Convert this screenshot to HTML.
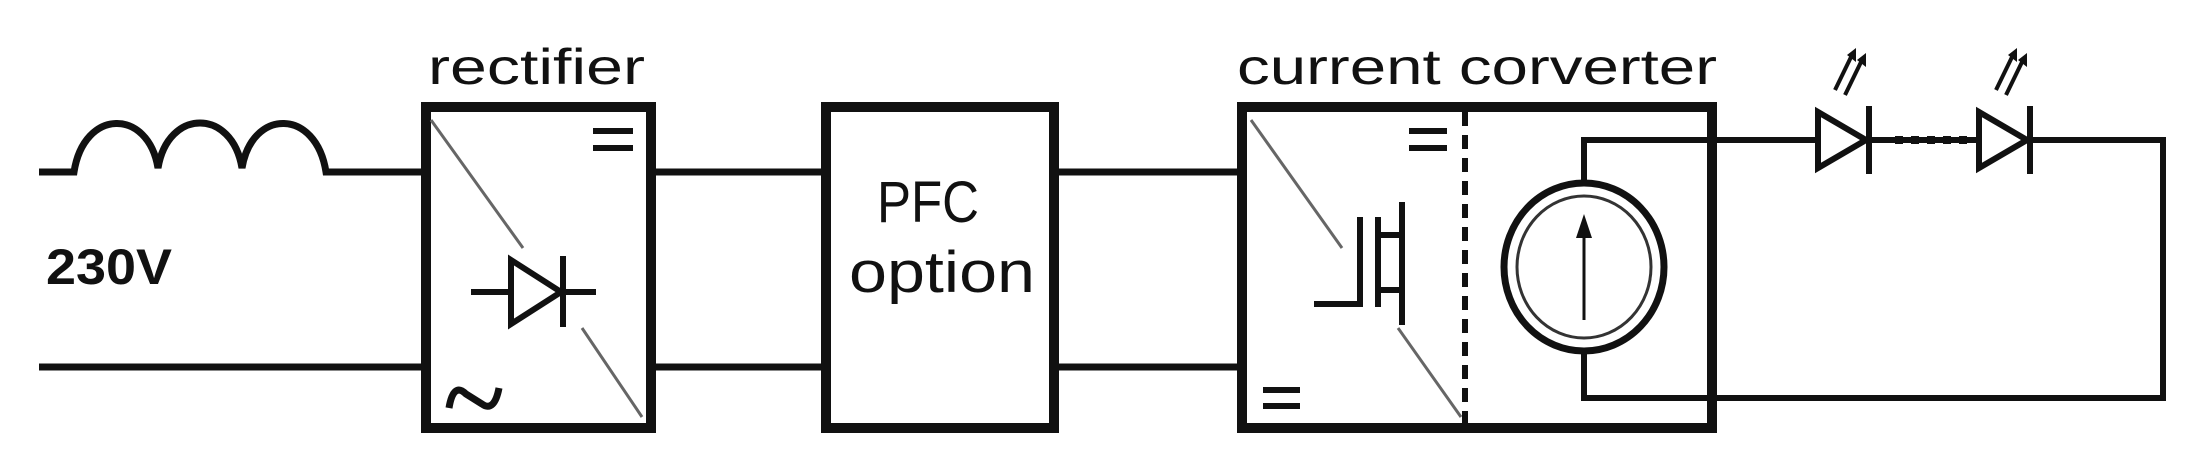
<!DOCTYPE html>
<html><head><meta charset="utf-8"><style>html,body{margin:0;padding:0;background:#fff}svg{display:block}</style></head>
<body>
<svg width="2211" height="471" viewBox="0 0 2211 471" xmlns="http://www.w3.org/2000/svg" font-family="Liberation Sans, sans-serif">
<g fill="none" stroke="#111" stroke-width="7">
  <!-- inductor -->
  <path d="M39 172 H74 C84 108 148 108 158 168 C168 108 232 108 242 168 C252 108 316 108 326 172 H421"/>
  <line x1="39" y1="367" x2="421" y2="367"/>
  <line x1="656" y1="172" x2="824" y2="172"/>
  <line x1="656" y1="367" x2="824" y2="367"/>
  <line x1="1059" y1="172" x2="1237" y2="172"/>
  <line x1="1059" y1="367" x2="1237" y2="367"/>
</g>
<g fill="none" stroke="#111" stroke-width="10">
  <rect x="426" y="107" width="225" height="321"/>
  <rect x="826" y="107" width="228" height="321"/>
  <rect x="1242" y="107" width="470" height="321"/>
</g>
<!-- rectifier internals -->
<g stroke="#666" stroke-width="3"><line x1="431" y1="120" x2="523" y2="248"/><line x1="582" y1="328" x2="642" y2="417"/></g>
<g stroke="#111" stroke-width="6" fill="none">
  <line x1="593" y1="131" x2="633" y2="131"/><line x1="593" y1="148" x2="633" y2="148"/>
  <line x1="471" y1="292" x2="596" y2="292"/>
  <path d="M511 260 L561 292 L511 324 Z" fill="#fff"/>
  <line x1="563" y1="256" x2="563" y2="327"/>
</g>
<path d="M449 408 C452 390 458 386 466 394 L482 404 C490 410 496 404 499 388" fill="none" stroke="#111" stroke-width="7"/>
<text x="428" y="84" font-size="50" textLength="217" lengthAdjust="spacingAndGlyphs" fill="#111">rectifier</text>
<text x="877" y="222" font-size="58" textLength="102" lengthAdjust="spacingAndGlyphs" fill="#111">PFC</text>
<text x="849" y="292" font-size="58" textLength="186" lengthAdjust="spacingAndGlyphs" fill="#111">option</text>
<text x="46" y="284" font-size="50" font-weight="bold" textLength="126" lengthAdjust="spacingAndGlyphs" fill="#111">230V</text>
<text x="1237" y="84" font-size="50" textLength="480" lengthAdjust="spacingAndGlyphs" fill="#111">current corverter</text>
<!-- converter internals -->
<g stroke="#666" stroke-width="3"><line x1="1251" y1="120" x2="1342" y2="248"/><line x1="1398" y1="328" x2="1461" y2="417"/></g>
<line x1="1465" y1="112" x2="1465" y2="426" stroke="#111" stroke-width="6" stroke-dasharray="14 9"/>
<g stroke="#111" stroke-width="6" fill="none">
  <line x1="1409" y1="131" x2="1447" y2="131"/><line x1="1409" y1="148" x2="1447" y2="148"/>
  <line x1="1263" y1="390" x2="1300" y2="390"/><line x1="1263" y1="406" x2="1300" y2="406"/>
  <line x1="1360" y1="217" x2="1360" y2="307"/>
  <line x1="1314" y1="304" x2="1360" y2="304"/>
  <line x1="1378" y1="217" x2="1378" y2="307"/>
  <line x1="1402" y1="202" x2="1402" y2="325"/>
  <line x1="1378" y1="235" x2="1402" y2="235"/>
  <line x1="1378" y1="290" x2="1402" y2="290"/>
  <!-- loop -->
  <path d="M1584 182 V140 H2163 V398 H1584 V352"/>
</g>
<ellipse cx="1584" cy="267" rx="80" ry="84" fill="#fff" stroke="#111" stroke-width="7"/>
<ellipse cx="1584" cy="267" rx="67" ry="71" fill="none" stroke="#333" stroke-width="3"/>
<line x1="1584" y1="320" x2="1584" y2="235" stroke="#111" stroke-width="3"/>
<path d="M1576 238 L1584 214 L1592 238 Z" fill="#111"/>
<!-- LEDs -->
<g stroke="#111" stroke-width="6" fill="#fff">
  <path d="M1818 112 L1866 140 L1818 168 Z"/>
  <line x1="1869" y1="106" x2="1869" y2="174"/>
  <path d="M1979 112 L2027 140 L1979 168 Z"/>
  <line x1="2030" y1="106" x2="2030" y2="174"/>
</g>
<line x1="1895" y1="140" x2="1973" y2="140" stroke="#111" stroke-width="8" stroke-dasharray="8 8"/>
<g stroke="#111" stroke-width="4">
  <line x1="1835" y1="90" x2="1852" y2="55"/><line x1="1845" y1="95" x2="1862" y2="60"/>
  <line x1="1996" y1="90" x2="2013" y2="55"/><line x1="2006" y1="95" x2="2023" y2="60"/>
</g>
<g fill="#111">
  <path d="M1847 55 L1856 48 L1856 62 Z"/><path d="M1857 60 L1866 53 L1866 67 Z"/>
  <path d="M2008 55 L2017 48 L2017 62 Z"/><path d="M2018 60 L2027 53 L2027 67 Z"/>
</g>
</svg>
</body></html>
